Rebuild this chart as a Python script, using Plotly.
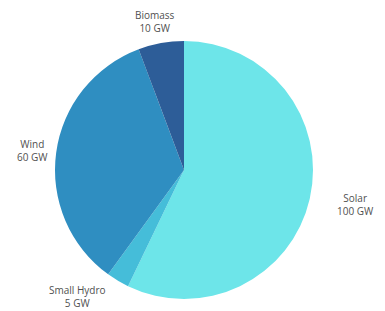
import plotly.graph_objects as go

labels = ["Solar", "Small Hydro", "Wind", "Biomass"]
values = [100, 5, 60, 10]
units = ["100 GW", "5 GW", "60 GW", "10 GW"]
colors = ["#6de5e9", "#45bdd9", "#2f8ec1", "#2d5d98"]

# label placement (page pixels from top-left)
label_pos = {"Solar": (355, 204), "Small Hydro": (77, 296), "Wind": (32, 150), "Biomass": (155, 21)}

W, H = 385, 311
OFF = 8  # default page body margin
L, T, SIZE = 47, 33, 258
fig = go.Figure(go.Pie(
    labels=labels,
    values=values,
    sort=False,
    direction="clockwise",
    rotation=0,
    marker=dict(colors=colors, line=dict(width=0)),
    textinfo="none",
    showlegend=False,
    hoverinfo="label+value",
))
for lab, u in zip(labels, units):
    px, py = label_pos[lab]
    fig.add_annotation(
        x=(px - OFF - L) / SIZE, y=1 - (py - OFF - T) / SIZE,
        xref="paper", yref="paper",
        text=f"{lab}<br>{u}", showarrow=False,
        xanchor="center", yanchor="middle", align="center",
        font=dict(family="Open Sans", size=10, color="#505050"),
    )
fig.update_layout(
    width=W, height=H,
    margin=dict(l=L, r=W - L - SIZE, t=T, b=H - T - SIZE),
    paper_bgcolor="white",
    plot_bgcolor="white",
)
fig.write_html("out.html")
